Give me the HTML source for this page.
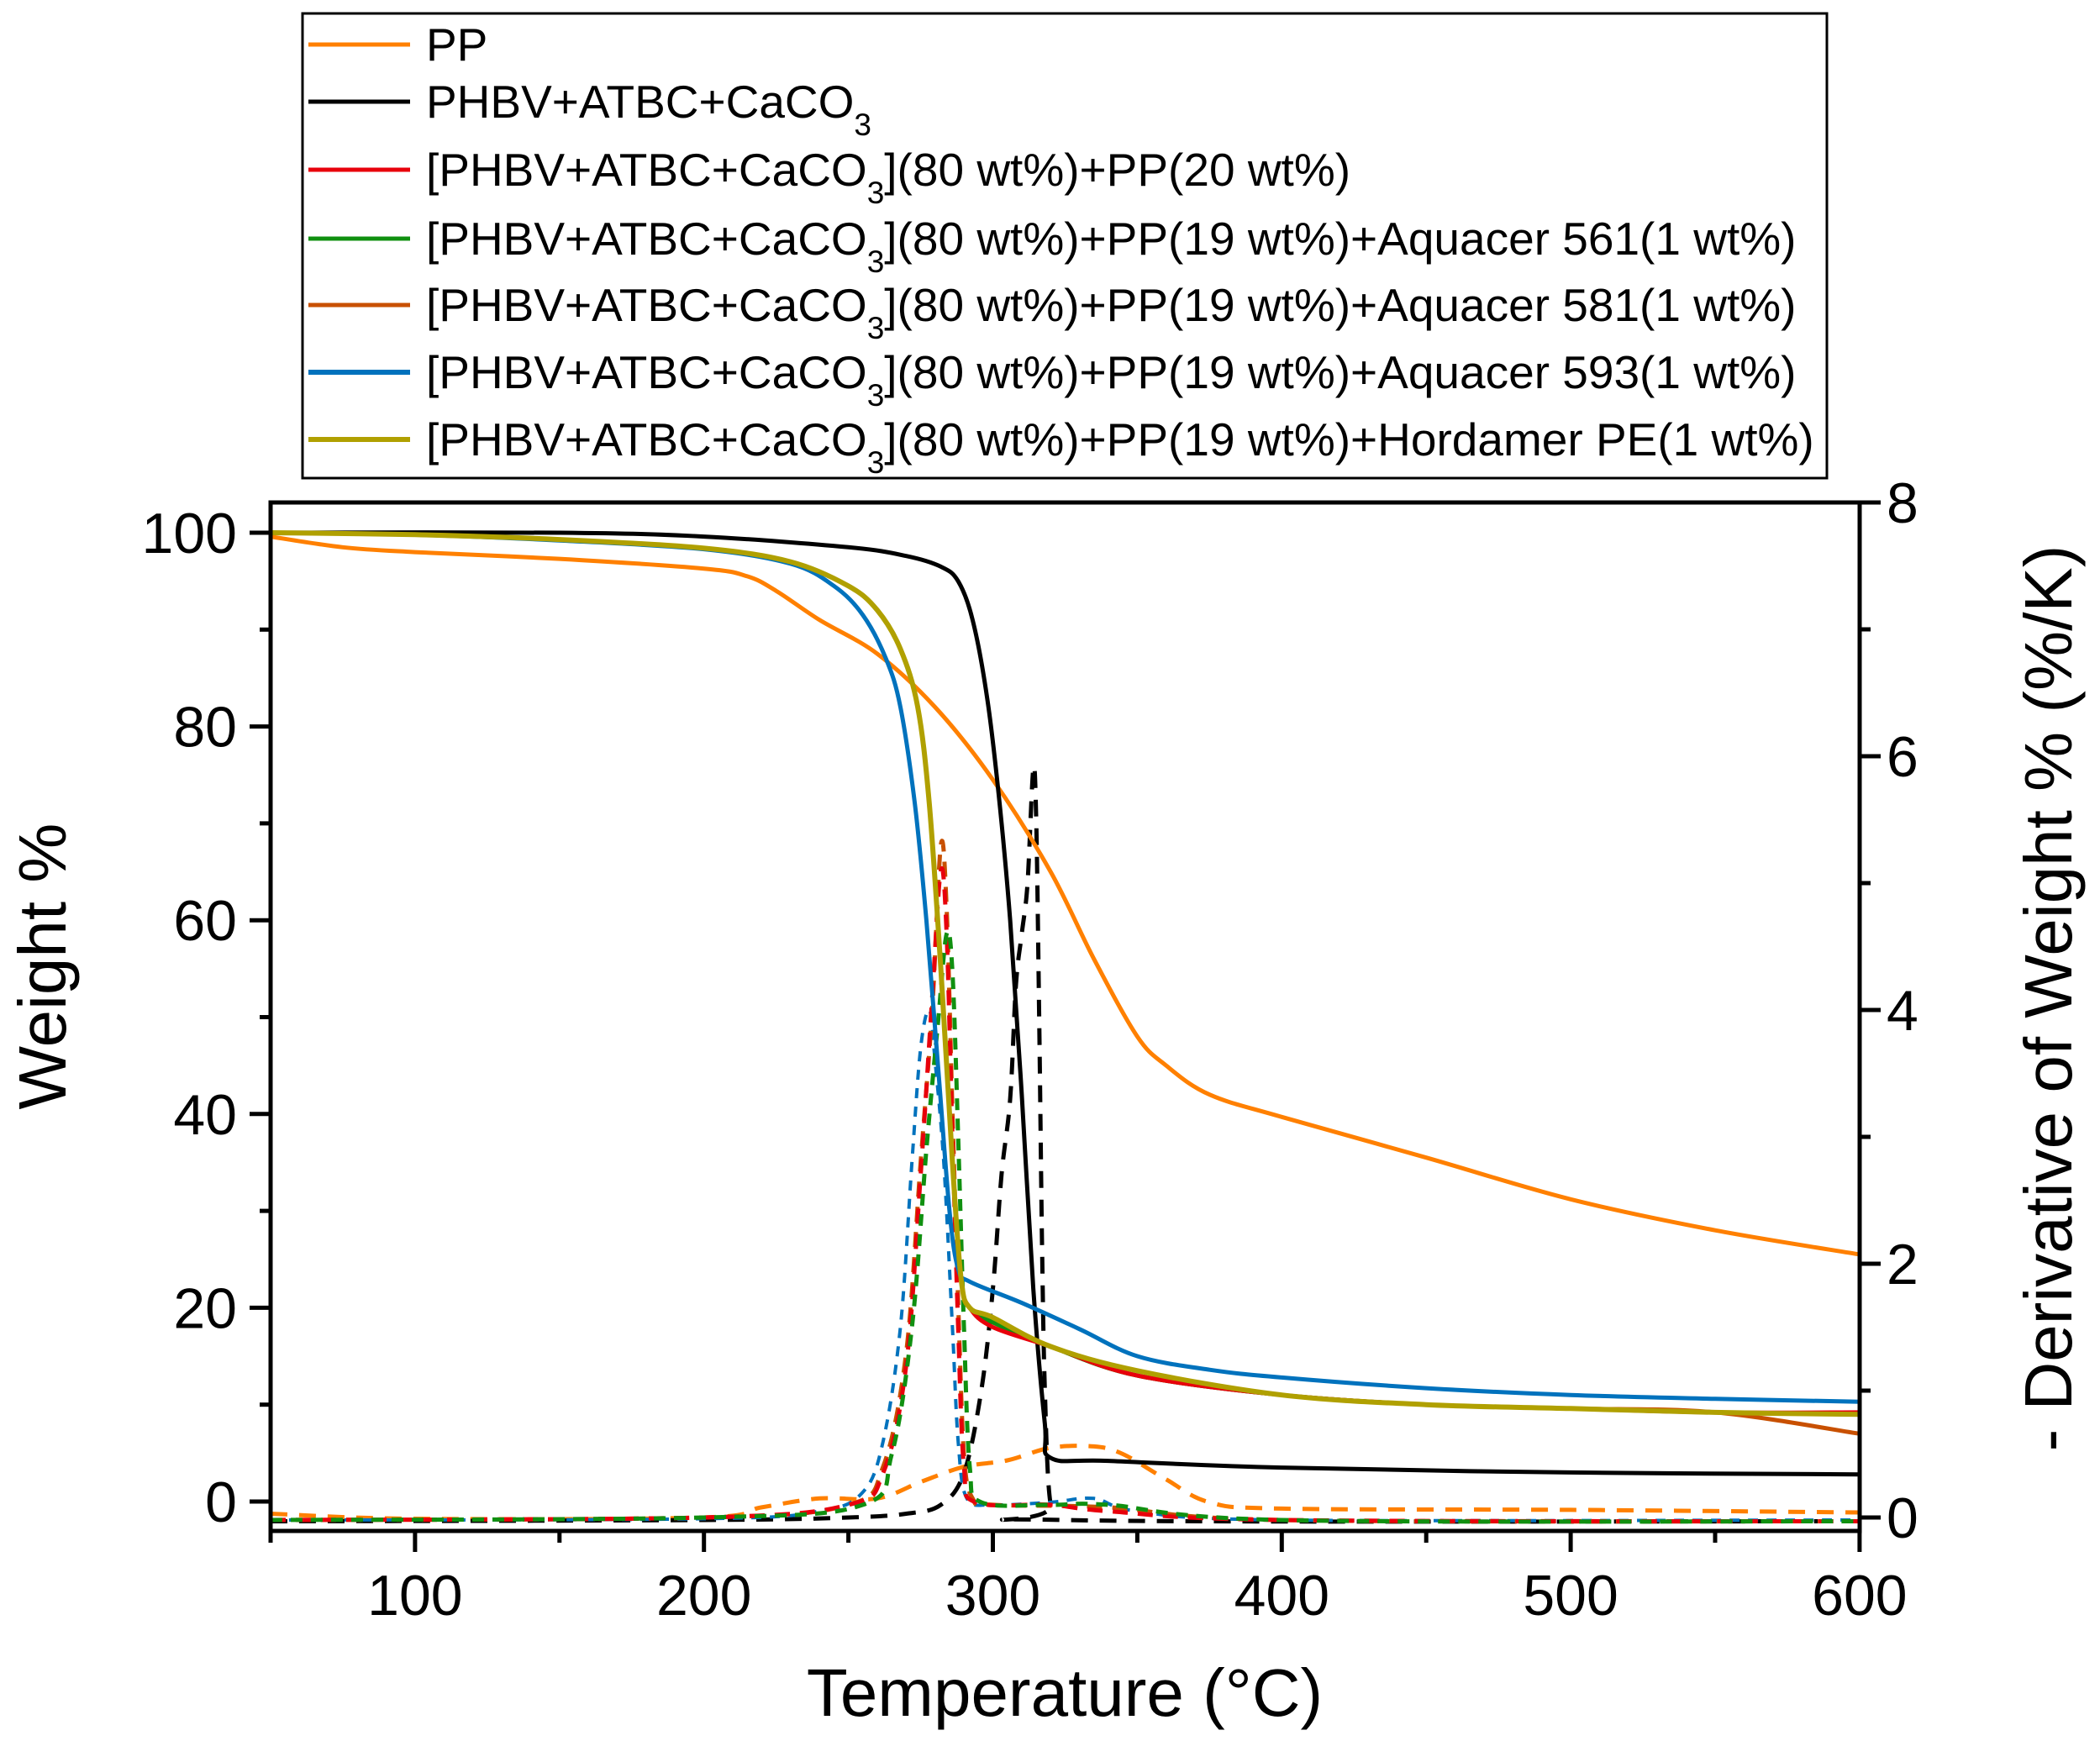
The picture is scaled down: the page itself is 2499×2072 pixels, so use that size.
<!DOCTYPE html>
<html><head><meta charset="utf-8"><style>
html,body{margin:0;padding:0;background:#fff}
svg{display:block}
text{font-family:"Liberation Sans",Arial,sans-serif;fill:#000}
</style></head><body>
<svg id="s" width="2499" height="2072" viewBox="0 0 2499 2072" xmlns="http://www.w3.org/2000/svg">
<rect width="2499" height="2072" fill="#fff"/>
<g id="curves"></g>
<rect x="322" y="598" width="1891" height="1224" fill="none" stroke="#000" stroke-width="5"/>
<g id="ticks" stroke="#000" stroke-width="5"></g>
<g font-size="68" id="labels"></g>
<text x="1267" y="2042" font-size="80" text-anchor="middle">Temperature (°C)</text>
<text transform="translate(78,1150) rotate(-90)" font-size="80" text-anchor="middle">Weight %</text>
<text transform="translate(2465,1188) rotate(-90)" font-size="80" text-anchor="middle">- Derivative of Weight % (%/K)</text>
<rect x="360" y="16" width="1814" height="553" fill="#fff" stroke="#000" stroke-width="3"/>
<g id="legend" font-size="55"></g>
</svg>
<script>
var X=function(t){return 322+(t-50)*3.438};
var YL=function(w){return 1787-w*11.53};
var YR=function(d){return 1806-d*151};
var C={pp:"#ff8000",bk:"#000",red:"#e8000b",grn:"#109010",dor:"#c85000",blu:"#0072bd",olv:"#b0a000"};
function path(pts,f,smooth){var P=pts.map(function(p){return [X(p[0]),f(p[1])]});
 if(!smooth)return P.map(function(p,i){return (i?"L":"M")+p[0].toFixed(1)+","+p[1].toFixed(1)}).join("");
 var d="M"+P[0][0].toFixed(1)+","+P[0][1].toFixed(1);
 for(var i=0;i<P.length-1;i++){var p0=P[i-1]||P[i],p1=P[i],p2=P[i+1],p3=P[i+2]||p2;
  var c1=[p1[0]+(p2[0]-p0[0])/6,p1[1]+(p2[1]-p0[1])/6],c2=[p2[0]-(p3[0]-p1[0])/6,p2[1]-(p3[1]-p1[1])/6];
  d+="C"+c1[0].toFixed(1)+","+c1[1].toFixed(1)+" "+c2[0].toFixed(1)+","+c2[1].toFixed(1)+" "+p2[0].toFixed(1)+","+p2[1].toFixed(1);}
 return d}
var g=document.getElementById("curves"),ns="http://www.w3.org/2000/svg";
function add(pts,f,col,w,dash){var p=document.createElementNS(ns,"path");p.setAttribute("d",path(pts,f,true));p.setAttribute("fill","none");p.setAttribute("stroke",col);p.setAttribute("stroke-width",w);p.setAttribute("stroke-linejoin","round");if(dash)p.setAttribute("stroke-dasharray",dash);g.appendChild(p)}
var blend=function(end){return [[50,100],[100,99.8],[150,99.3],[200,98.4],[230,97],[250,94.5],[260,92],[268,88],[274,82],[278,72],[282,55],[286,35],[289,23],[292,20],[300,18.5],[320,16],[350,13],[400,11],[450,10],[500,9.6],[550,9.2],[600,end]]};
// derivative
add([[50,0.03],[100,-0.01],[200,0],[220,0.08],[240,0.15],[260,0.15],[275,0.28],[290,0.4],[305,0.45],[320,0.55],[335,0.56],[345,0.5],[360,0.3],[375,0.12],[400,0.07],[500,0.06],[600,0.04]],YR,C.pp,5,"20 14");
add([[50,-0.03],[200,-0.02],[250,0],[270,0.03],[282,0.1],[290,0.35],[296,1],[300,1.8],[303,2.7],[306,3.3],[308,4.2],[310,4.6],[312,5.0],[314,5.9],[315,5.5],[316,4],[317,2.2],[318,1],[320,0.1],[325,-0.02],[600,-0.03]],YR,C.bk,5,"20 14");
add([[50,-0.02],[200,-0.01],[240,0.05],[255,0.2],[262,0.6],[268,1.5],[272,2.8],[275,3.7],[278,4.0],[280,3.6],[283,2.8],[286,1.5],[288,0.6],[291,0.15],[300,0.1],[320,0.12],[335,0.15],[350,0.05],[400,-0.02],[600,-0.02]],YR,C.blu,4,"12 10");
add([[50,-0.02],[200,0],[250,0.1],[262,0.4],[270,1.3],[275,2.8],[279,4],[282,5.3],[284,4.8],[286,3.2],[288,1.7],[290,0.5],[293,0.15],[300,0.1],[340,0.08],[400,-0.02],[600,-0.03]],YR,C.dor,5,"18 12");
add([[50,-0.02],[200,0],[250,0.1],[262,0.35],[270,1.2],[275,2.7],[279,4.1],[282,5.1],[284,4.6],[286,3],[288,1.5],[290,0.4],[294,0.12],[320,0.1],[340,0.05],[400,-0.02],[600,-0.03]],YR,C.red,5,"18 12");
add([[50,-0.02],[200,0],[255,0.1],[265,0.5],[272,1.5],[277,2.9],[281,3.9],[284,4.6],[286,4.3],[288,3],[290,1.5],[292,0.4],[296,0.12],[320,0.1],[340,0.1],[400,-0.02],[600,-0.03]],YR,C.grn,5,"14 10");
// weight
add([[50,99.6],[75,98.5],[100,98],[150,97.3],[200,96.3],[215,95.5],[225,94],[240,91],[260,87.5],[280,82],[300,74.5],[320,65],[335,56],[350,48],[360,45],[375,42],[400,39.7],[450,35.5],[500,31.2],[550,28],[600,25.5]],YL,C.pp,5);
add([[50,100],[150,100],[200,99.6],[250,98.5],[270,97.6],[282,96.5],[288,95],[293,91],[298,83],[302,73],[306,60],[310,42],[314,22],[318,8],[320,4.5],[340,4.2],[400,3.5],[500,3],[600,2.8]],YL,C.bk,5);
add([[50,100],[100,99.8],[150,99.2],[200,98.3],[230,96.8],[245,94.5],[255,91.5],[263,87],[268,82],[273,72],[277,60],[281,45],[285,30],[288,24],[292,22.7],[310,20.5],[330,17.8],[350,15],[375,13.6],[400,12.8],[450,11.7],[500,11],[550,10.6],[600,10.3]],YL,C.blu,5);
add(blend(7),YL,C.dor,5);
add(blend(9),YL,C.grn,5);
var r=blend(9.2);r[14]=[300,18];add(r,YL,C.red,5);
var o=blend(9);o[14]=[300,19];o[16]=[350,13.5];add(o,YL,C.olv,6);
// ticks
var tk=document.getElementById("ticks"),lb=document.getElementById("labels");
function ln(x1,y1,x2,y2){var l=document.createElementNS(ns,"line");l.setAttribute("x1",x1);l.setAttribute("y1",y1);l.setAttribute("x2",x2);l.setAttribute("y2",y2);tk.appendChild(l)}
function tx(x,y,s,a){var t=document.createElementNS(ns,"text");t.setAttribute("x",x);t.setAttribute("y",y);t.setAttribute("text-anchor",a);t.textContent=s;lb.appendChild(t)}
for(var t=50;t<=600;t+=50){var x=X(t);ln(x,1822,x,t%100==0?1847:1836);if(t%100==0)tx(x,1922,t,"middle")}
for(var w=0;w<=100;w+=10){var y=YL(w);ln(322,y,w%20==0?297:309,y);if(w%20==0)tx(282,y+24,w,"end")}
for(var d=0;d<=8;d+=1){var y=YR(d);ln(2213,y,d%2==0?2238:2226,y);if(d%2==0)tx(2245,y+24,d,"start")}
// legend
var S="<tspan baseline-shift=\"sub\" font-size=\"37\">3</tspan>";
var L=[["pp",5,"PP"],["bk",5,"PHBV+ATBC+CaCO"+S]];
var sub="[PHBV+ATBC+CaCO"+S+"](80 wt%)+PP(";
L.push(["red",5,sub+"20 wt%)"]);
L.push(["grn",5,sub+"19 wt%)+Aquacer 561(1 wt%)"]);
L.push(["dor",5,sub+"19 wt%)+Aquacer 581(1 wt%)"]);
L.push(["blu",6,sub+"19 wt%)+Aquacer 593(1 wt%)"]);
L.push(["olv",6,sub+"19 wt%)+Hordamer PE(1 wt%)"]);
var ys=[53,121,202,284,363,443,523],lg=document.getElementById("legend");
L.forEach(function(e,i){var y=ys[i];var l=document.createElementNS(ns,"line");l.setAttribute("x1",367);l.setAttribute("x2",488);l.setAttribute("y1",y);l.setAttribute("y2",y);l.setAttribute("stroke",C[e[0]]);l.setAttribute("stroke-width",e[1]);lg.appendChild(l);
var t=document.createElementNS(ns,"text");t.setAttribute("x",507);t.setAttribute("y",y+19);t.innerHTML=e[2];lg.appendChild(t)});
</script>
</body></html>
